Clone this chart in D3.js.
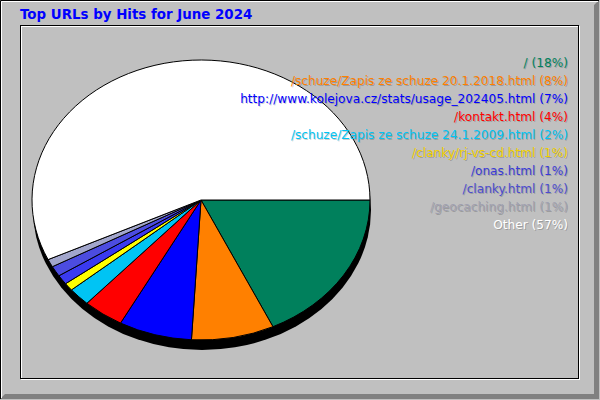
<!DOCTYPE html>
<html>
<head>
<meta charset="utf-8">
<script src="https://cdn.jsdelivr.net/npm/d3@7"></script>
<style>
  body { margin: 0; background: #c0c0c0; }
  text { font-family: "DejaVu Sans", sans-serif; }
</style>
</head>
<body>
<svg id="chart" width="600" height="400"></svg>
<script>
// data
const urls = ["/", "/schuze/Zapis ze schuze 20.1.2018.html", "http://www.kolejova.cz/stats/usage_202405.html",
  "/kontakt.html", "/schuze/Zapis ze schuze 24.1.2009.html", "/clanky/rj-vs-cd.html",
  "/onas.html", "/clanky.html", "/geocaching.html", "Other"];
const percents = [18, 8, 7, 4, 2, 1, 1, 1, 1, 57];            // printed in the legend
const shares = [18, 7.9, 7.0, 3.9, 2.1, 0.9, 1.1, 1.2, 0.9, 57.0]; // slice sizes as measured
const colors = ["#00805c", "#ff8000", "#0000ff", "#ff0000", "#00c4f4", "#ffff00",
  "#3a3af0", "#4c4ce0", "#a2a6cc", "#ffffff"];
const textColors = ["#00805c", "#ff8000", "#0000ff", "#ff0000", "#00c4f4", "#f0d000",
  "#3a3ad8", "#4c4cd0", "#a0a0b0", "#ffffff"];

const svg = d3.select("#chart");

// outer frame
svg.append("rect").attr("x", 0).attr("y", 0).attr("width", 600).attr("height", 400).attr("fill", "#c0c0c0");
svg.append("path").attr("d", "M599,0 L599,399 L0,399 L5,394 L594,394 L594,5 Z").attr("fill", "#808080");
svg.append("path").attr("d", "M0.5,399 L0.5,0.5 L599,0.5").attr("stroke", "#000").attr("fill", "none");
svg.append("path").attr("d", "M1.5,398 L1.5,1.5 L598,1.5").attr("stroke", "#fff").attr("fill", "none");

// inner frame
svg.append("rect").attr("x", 21.5).attr("y", 26.5).attr("width", 558).attr("height", 353)
  .attr("fill", "none").attr("stroke", "#fff");
svg.append("rect").attr("x", 20.5).attr("y", 25.5).attr("width", 558).attr("height", 353)
  .attr("fill", "none").attr("stroke", "#000");

// title
svg.append("text").attr("x", 20).attr("y", 19)
  .attr("fill", "#0000ff").attr("font-weight", "bold").attr("font-size", "13.4px")
  .text("Top URLs by Hits for June 2024");

// pie
const cx = 201, cy = 200, rx = 169, ry = 140, depth = 10, r = 100;

const pie = d3.pie().sort(null).value(d => d)
  .startAngle(Math.PI / 2).endAngle(Math.PI / 2 + 2 * Math.PI);
const arc = d3.arc().innerRadius(0).outerRadius(r);

// 3d edge
svg.append("ellipse").attr("cx", cx + 1).attr("cy", cy + depth).attr("rx", rx).attr("ry", ry).attr("fill", "#000");

const pg = svg.append("g")
  .attr("transform", `translate(${cx},${cy}) scale(${rx / r},${ry / r})`);

pg.selectAll("path.slice")
  .data(pie(shares))
  .enter()
  .append("path")
  .attr("class", "slice")
  .attr("d", arc)
  .attr("fill", (d, i) => colors[i])
  .attr("stroke", "#000")
  .attr("stroke-width", 1)
  .attr("vector-effect", "non-scaling-stroke");

// legend labels
const y = d3.scalePoint().domain(d3.range(urls.length)).range([67, 67 + 18 * (urls.length - 1)]);

const lab = svg.append("g").attr("font-size", "12.15px").attr("text-anchor", "end");
lab.selectAll("text.shadow")
  .data(urls).enter().append("text")
  .attr("class", "shadow")
  .attr("x", 569).attr("y", (d, i) => y(i) + 1)
  .attr("fill", "#000").attr("fill-opacity", 0.2)
  .text((d, i) => `${d} (${percents[i]}%)`);
lab.selectAll("text.label")
  .data(urls).enter().append("text")
  .attr("class", "label")
  .attr("x", 568).attr("y", (d, i) => y(i))
  .attr("fill", (d, i) => textColors[i])
  .text((d, i) => `${d} (${percents[i]}%)`);
</script>
</body>
</html>
